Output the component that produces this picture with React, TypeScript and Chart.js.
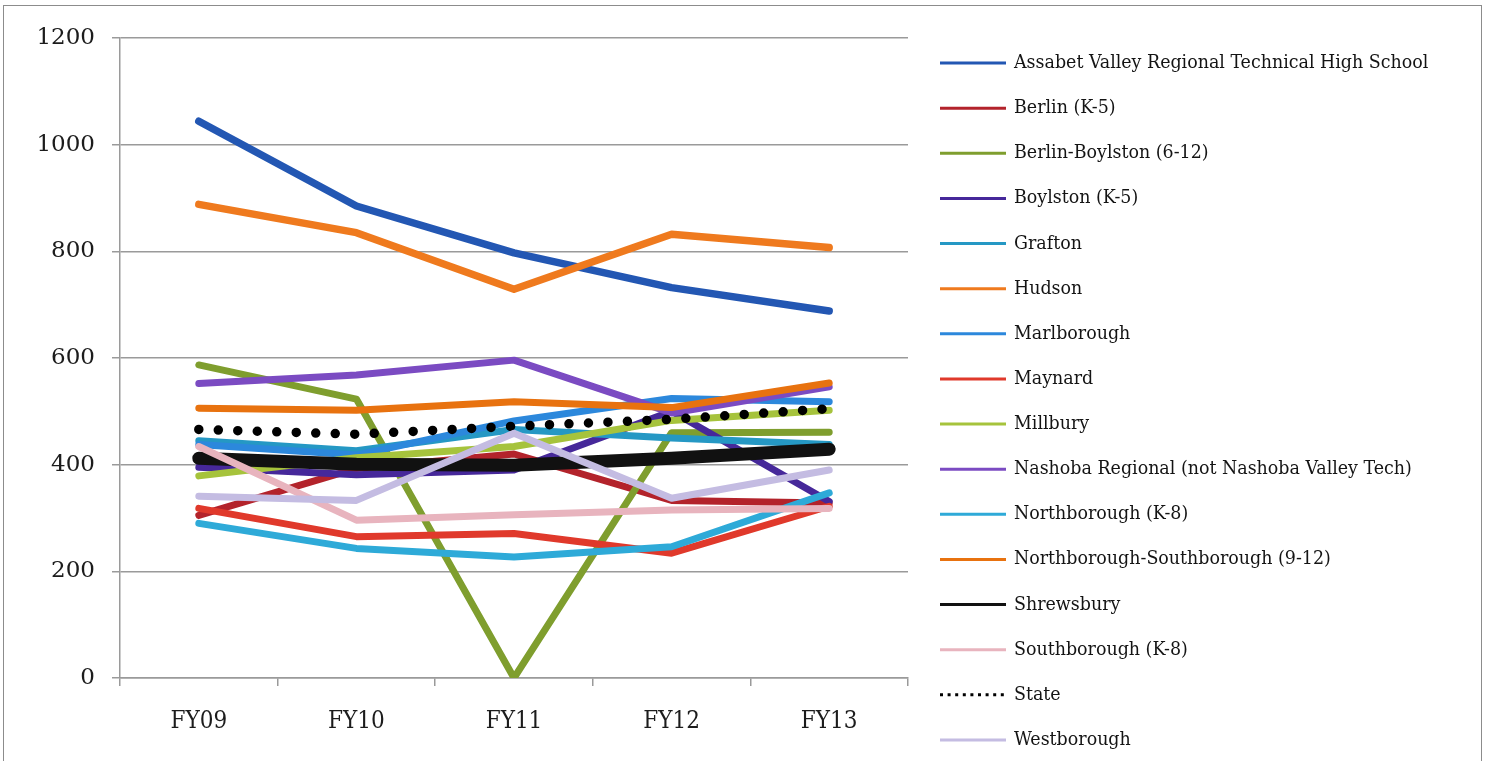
import React, { useEffect, useRef } from 'react';
import { Chart, registerables } from 'chart.js';

Chart.register(...registerables);

// ---------- data ----------
const categories = ['FY09', 'FY10', 'FY11', 'FY12', 'FY13'];

const seriesNames = [
  'Assabet Valley Regional Technical High School',
  'Berlin (K-5)',
  'Berlin-Boylston (6-12)',
  'Boylston (K-5)',
  'Grafton',
  'Hudson',
  'Marlborough',
  'Maynard',
  'Millbury',
  'Nashoba Regional (not Nashoba Valley Tech)',
  'Northborough (K-8)',
  'Northborough-Southborough (9-12)',
  'Shrewsbury',
  'Southborough (K-8)',
  'State',
  'Westborough',
];

const assabet = [1044, 885, 797, 732, 688];
const berlin = [305, 393, 420, 333, 328];
const berlinBoylston = [587, 523, 0, 460, 461];
const boylston = [395, 381, 390, 500, 331];
const grafton = [445, 426, 466, 450, 438];
const hudson = [888, 835, 729, 832, 807];
const marlborough = [438, 418, 482, 524, 518];
const maynard = [318, 265, 271, 234, 322];
const millbury = [379, 413, 434, 483, 502];
const nashoba = [552, 568, 596, 497, 546];
const northborough = [290, 243, 227, 246, 347];
const northSouth = [506, 502, 518, 507, 553];
const shrewsbury = [412, 401, 399, 412, 429];
const southborough = [434, 296, 306, 315, 318];
const state = [466, 457, 472, 485, 505];
const westborough = [341, 333, 459, 337, 390];

const seriesValues = [
  assabet, berlin, berlinBoylston, boylston, grafton, hudson, marlborough, maynard,
  millbury, nashoba, northborough, northSouth, shrewsbury, southborough, state, westborough,
];

const yMin = 0;
const yMax = 1200;
const yStep = 200;

// ---------- styles ----------
const seriesColors = [
  '#2357b3', '#b3232b', '#7f9e2e', '#46289a', '#2598c4', '#ef7a1e', '#2c88dc', '#e0392b',
  '#a6c33c', '#7b4bc2', '#2eaad8', '#e8720f', '#111111', '#e8b4be', '#000000', '#c4bce2',
];
const seriesWidths = [7.5, 7, 7, 7, 7, 7.5, 7, 7, 7, 7, 7, 7, 13, 7, 9.5, 7];

const legendPlugin = {
  id: 'sideLegend',
  afterDraw(chart: any) {
    const ctx = chart.ctx as CanvasRenderingContext2D;
    const area = chart.chartArea;
    const lineX0 = area.right + 32;
    const lineX1 = lineX0 + 66;
    const textX = lineX1 + 8;
    const firstY = 63;
    const step = 45.13;
    chart.data.datasets.forEach((ds: any, i: number) => {
      const y = firstY + i * step;
      ctx.save();
      ctx.beginPath();
      ctx.strokeStyle = ds.borderColor;
      ctx.lineWidth = 3;
      ctx.lineCap = 'butt';
      if (ds.label === 'State') ctx.setLineDash([3, 4.6]);
      ctx.moveTo(lineX0, y);
      ctx.lineTo(lineX1, y);
      ctx.stroke();
      ctx.restore();
      ctx.save();
      ctx.fillStyle = '#141414';
      ctx.font = '19.4px "DejaVu Serif Condensed", "DejaVu Serif", serif';
      ctx.textBaseline = 'middle';
      ctx.textAlign = 'left';
      ctx.fillText(ds.label, textX, y);
      ctx.restore();
    });
  },
};

export default function App() {
  const canvasRef = useRef<HTMLCanvasElement | null>(null);

  useEffect(() => {
    if (!canvasRef.current) return;
    const n = seriesNames.length;
    const datasets = seriesNames.map((name, i) => ({
      label: name,
      data: seriesValues[i],
      borderColor: seriesColors[i],
      backgroundColor: seriesColors[i],
      borderWidth: seriesWidths[i],
      borderCapStyle: 'round' as const,
      borderJoinStyle: 'round' as const,
      borderDash: name === 'State' ? [0, 19.5] : [],
      pointRadius: 0,
      pointHoverRadius: 0,
      tension: 0,
      fill: false,
      order: n - i,
    }));

    const chart = new Chart(canvasRef.current, {
      type: 'line',
      data: { labels: categories, datasets },
      options: {
        animation: false,
        responsive: false,
        maintainAspectRatio: false,
        layout: { padding: { left: 0, top: 38, right: 580, bottom: 0 } },
        plugins: {
          legend: { display: false },
          tooltip: { enabled: false },
        },
        scales: {
          x: {
            type: 'category',
            offset: true,
            grid: {
              offset: true,
              drawOnChartArea: false,
              drawTicks: true,
              tickLength: 8,
              color: '#9a9a9a',
              lineWidth: 1.5,
            },
            border: { color: '#9a9a9a', width: 1.5 },
            ticks: {
              color: '#1c1c1c',
              padding: 21,
              font: { family: '"DejaVu Serif Condensed", "DejaVu Serif", serif', size: 24 },
            },
            afterFit: (scale: any) => {
              scale.height = 83;
            },
          },
          y: {
            min: yMin,
            max: yMax,
            ticks: {
              stepSize: yStep,
              color: '#1c1c1c',
              padding: 17,
              font: { family: '"DejaVu Serif", serif', size: 23 },
              callback: (value: any) => String(value),
            },
            grid: {
              color: '#9a9a9a',
              lineWidth: 1.5,
              tickLength: 8,
            },
            border: { color: '#9a9a9a', width: 1.5 },
            afterFit: (scale: any) => {
              scale.width = 120;
            },
          },
        },
      },
      plugins: [legendPlugin],
    });
    return () => chart.destroy();
  }, []);

  return (
    <div
      style={{
        position: 'fixed',
        left: 0,
        top: 0,
        width: 1488,
        height: 761,
        background: '#ffffff',
        overflow: 'hidden',
      }}
    >
      <div
        style={{
          position: 'absolute',
          left: 3,
          top: 5,
          width: 1479,
          height: 800,
          border: '1.5px solid #8c8c8c',
          boxSizing: 'border-box',
        }}
      />
      <canvas
        ref={canvasRef}
        width={1488}
        height={761}
        style={{ position: 'absolute', left: 0, top: 0, width: 1488, height: 761 }}
      />
    </div>
  );
}
